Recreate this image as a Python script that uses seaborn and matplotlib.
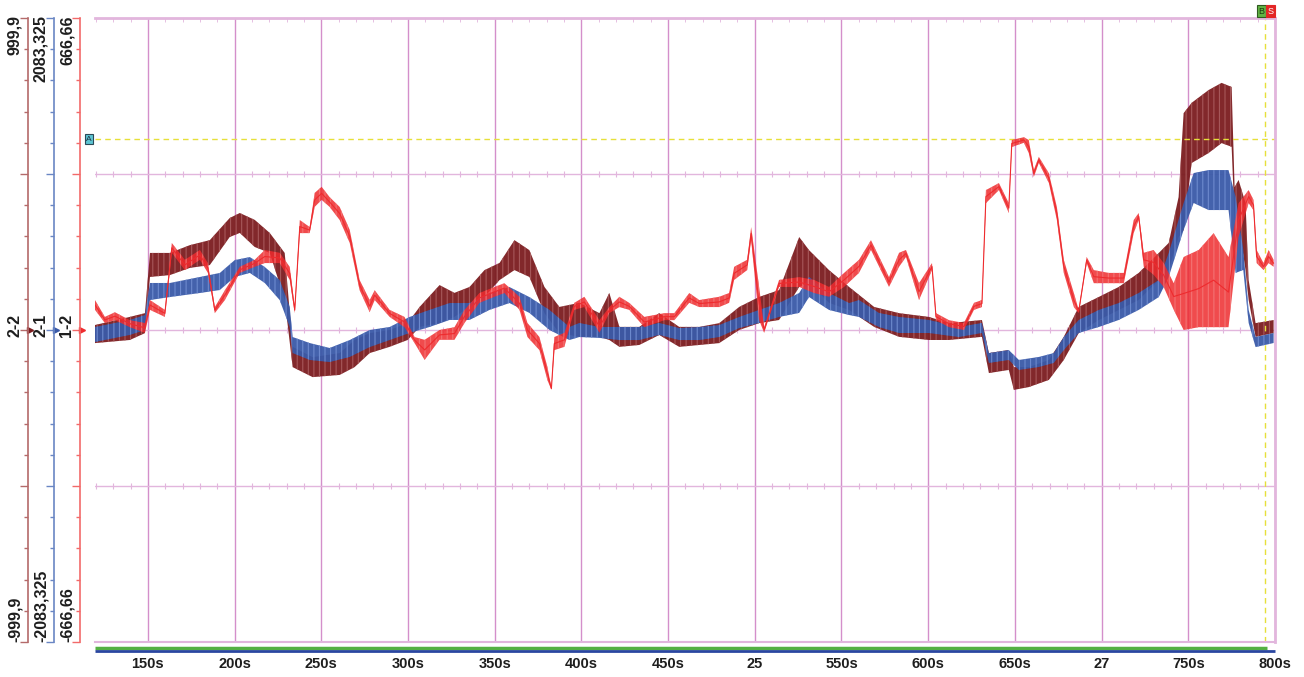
import numpy as np
import pandas as pd
import matplotlib
matplotlib.use("Agg")
import matplotlib.pyplot as plt
import matplotlib.transforms as mtransforms
from matplotlib.ticker import MultipleLocator
import seaborn as sns

# -------------------------------
# DATA (envelope low / high per channel)
# -------------------------------
# channel 2-2, full scale +-999.9
T_22 = [119.5, 139.6, 148.3, 151.2, 162.7, 174.2, 185.7, 197.2, 203.0, 211.6,
        220.3, 228.9, 233.5, 245.0, 260.6, 269.2, 277.9, 289.4, 299.8, 306.7,
        318.2, 326.8, 335.5, 344.1, 352.8, 361.4, 370.0, 378.7, 387.3, 398.8,
        410.4, 416.1, 421.9, 433.4, 444.9, 456.4, 468.0, 479.5, 491.0, 502.5,
        514.0, 525.6, 531.3, 542.8, 554.4, 568.8, 583.2, 600.4, 612.0, 631.0,
        635.0, 646.5, 649.4, 658.0, 669.6, 678.2, 686.8, 698.4, 709.9, 721.4,
        733.0, 738.7, 744.4, 747.3, 751.9, 761.7, 769.2, 775.0, 776.7, 779.0,
        783.0, 784.8, 788.8, 799.2]
HI_22 = [16, 42, 54, 247, 247, 272, 288, 359, 375, 353,
         311, 247, -54, -87, -74, -32, -10, 0, 22, 74,
         144, 119, 138, 192, 215, 288, 256, 138, 74, 87,
         54, 119, 10, 10, 54, 10, 10, 22, 74, 106,
         128, 298, 256, 192, 138, 74, 54, 42, 22, 32,
         -74, -64, -119, -119, -96, -22, 74, 106, 138, 183,
         247, 279, 426, 695, 728, 769, 792, 779, 458, 481,
         407, 160, 22, 32]
LO_22 = [-42, -32, -10, 170, 176, 199, 208, 298, 311, 266,
         247, 96, -119, -151, -144, -119, -74, -54, -32, 10,
         22, 42, 74, 106, 160, 192, 170, 54, -10, -22,
         -22, -32, -54, -48, -16, -54, -48, -42, 0, 22,
         32, 138, 151, 87, 64, 10, -22, -32, -32, -22,
         -138, -128, -192, -183, -160, -96, -10, 32, 64, 96,
         160, 192, 298, 320, 535, 567, 599, 587, 353, 343,
         192, 96, -22, -10]

# channel 2-1, full scale +-2083.325
T_21 = [119.5, 139.6, 148.3, 151.2, 162.7, 180.0, 191.5, 200.1, 208.8, 217.4,
        226.0, 231.8, 233.5, 243.3, 254.8, 266.4, 277.9, 289.4, 300.9, 312.4,
        324.0, 335.5, 347.0, 358.5, 370.0, 381.6, 393.1, 398.8, 410.4, 421.9,
        433.4, 444.9, 456.4, 468.0, 479.5, 491.0, 502.5, 514.0, 525.6, 531.3,
        542.8, 554.4, 560.1, 571.6, 583.2, 600.4, 617.7, 631.0, 635.0, 646.5,
        652.3, 663.8, 672.4, 678.2, 686.8, 698.4, 709.9, 721.4, 733.0, 738.7,
        747.3, 753.1, 761.7, 773.2, 777.3, 781.7, 784.8, 788.8, 799.2]
HI_21 = [20, 67, 100, 314, 314, 354, 381, 467, 487, 421,
         334, 154, -47, -87, -120, -67, 0, 20, 87, 134,
         180, 180, 247, 287, 220, 134, 20, 47, 20, 20,
         20, 47, 13, 20, 33, 87, 134, 180, 247, 354,
         247, 180, 200, 114, 87, 67, 20, 47, -154, -134,
         -200, -180, -154, -47, 67, 134, 180, 247, 334, 514,
         848, 1048, 1068, 1068, 888, 534, 134, -47, -20]
LO_21 = [-80, -33, 0, 200, 220, 247, 267, 354, 381, 314,
         200, 20, -154, -200, -214, -180, -114, -67, -20, 20,
         67, 67, 134, 180, 114, 0, -67, -47, -53, -67,
         -67, -33, -67, -67, -47, 13, 47, 87, 114, 220,
         134, 100, 87, 20, -20, -20, -47, -20, -220, -200,
         -267, -247, -220, -134, -20, 20, 67, 134, 220, 354,
         668, 848, 801, 801, 381, 401, 47, -114, -87]

# channel 1-2, full scale +-666.66
T_12 = [119.5, 125.2, 131.0, 139.6, 148.3, 151.2, 159.8, 163.8, 171.3, 180.0,
        184.6, 188.6, 194.4, 203.0, 211.6, 217.4, 226.0, 231.8, 234.7, 237.6,
        243.3, 246.2, 250.2, 254.8, 260.6, 266.4, 272.1, 277.9, 280.8, 289.4,
        298.0, 303.8, 309.6, 318.2, 326.8, 332.6, 341.2, 349.9, 355.6, 364.3,
        368.9, 375.8, 380.4, 382.7, 384.4, 390.2, 395.9, 401.7, 410.4, 416.1,
        421.9, 427.6, 436.3, 447.8, 453.6, 462.2, 468.0, 479.5, 485.2, 488.1,
        495.6, 497.9, 502.5, 505.4, 514.0, 525.6, 534.2, 542.8, 551.5, 560.1,
        567.0, 577.4, 583.2, 587.2, 594.7, 602.2, 604.5, 612.0, 620.6, 626.4,
        631.0, 633.3, 640.8, 646.5, 648.2, 655.2, 658.0, 660.9, 663.8, 669.6,
        674.2, 678.2, 684.0, 686.8, 691.4, 695.5, 704.1, 712.8, 718.5, 721.4,
        724.3, 730.0, 735.8, 741.6, 747.3, 756.0, 764.6, 773.2, 779.0, 784.8,
        787.6, 789.4, 793.4, 796.3, 799.2]
HI_12 = [64, 28, 38, 21, 15, 64, 43, 186, 150, 171,
         143, 49, 85, 135, 150, 171, 165, 135, 49, 235,
         220, 293, 306, 284, 263, 214, 107, 64, 85, 43,
         28, -15, -21, 0, 6, 43, 79, 92, 100, 71,
         15, -15, -79, -122, -15, -6, 58, 71, 21, 49,
         71, 58, 28, 36, 36, 79, 64, 71, 79, 135,
         150, 220, 92, 6, 107, 113, 107, 92, 122, 150,
         192, 113, 165, 171, 100, 143, 36, 21, 15, 58,
         64, 299, 314, 271, 406, 412, 406, 342, 370, 335,
         263, 150, 79, 43, 156, 128, 122, 122, 235, 250,
         165, 171, 143, 100, 156, 171, 207, 156, 271, 299,
         278, 171, 143, 171, 150]
LO_12 = [43, 15, 21, 6, -6, 43, 28, 165, 128, 150,
         122, 36, 64, 122, 135, 143, 143, 107, 36, 207,
         207, 263, 278, 263, 235, 186, 85, 38, 64, 28,
         6, -28, -64, -21, -21, 15, 58, 71, 79, 43,
         -15, -43, -107, -128, -43, -36, 43, 49, -6, 36,
         49, 43, 6, 21, 21, 58, 49, 49, 58, 107,
         128, 192, 21, -6, 92, 92, 79, 71, 92, 122,
         171, 92, 135, 156, 64, 128, 21, 6, 0, 43,
         49, 271, 299, 250, 391, 400, 378, 327, 357, 314,
         235, 122, 49, 36, 143, 100, 100, 100, 207, 235,
         135, 118, 92, 43, 0, 6, 6, 6, 199, 271,
         256, 143, 128, 143, 135]

XTICKS = [150, 200, 250, 300, 350, 400, 450, 500, 550, 600, 650, 700, 750, 800]
XTICK_LABELS = ["150s", "200s", "250s", "300s", "350s", "400s", "450s", "25",
                "550s", "600s", "650s", "27", "750s", "800s"]

CURSOR_A = 612      # in 2-2 units
CURSOR_B = 794.0    # seconds

# -------------------------------
# STYLE
# -------------------------------
sns.set_style("white")
plt.rcParams["font.family"] = ["Liberation Sans", "DejaVu Sans"]
plt.rcParams["hatch.linewidth"] = 0.8

C_22 = "#7b1c1f"
C_21 = "#3a5aa8"
C_12 = "#ee2b2e"
SP_22 = "#b46a6a"
SP_21 = "#6a86c4"
SP_12 = "#f26a6a"
GRID_V = "#d48fcb"
GRID_H = "#e2b6dd"
TXT = "#1e1e1e"


def long_frame(t, lo, hi):
    return pd.DataFrame({"time": np.concatenate([t, t]),
                         "value": np.concatenate([lo, hi])})


fig = plt.figure(figsize=(13.04, 6.77), dpi=100)
ax = fig.add_axes([95 / 1304, 1 - 642 / 677, 1180 / 1304, 624 / 677])
ax_b = ax.twinx()
ax_r = ax.twinx()

channels = [
    (ax, long_frame(T_22, LO_22, HI_22), C_22, "#a85a5c", SP_22, 999.9, 67,
     "999,9", "-999,9", "2-2", 0.95, 0),
    (ax_b, long_frame(T_21, LO_21, HI_21), C_21, "#6f8cd0", SP_21, 2083.325, 41,
     "2083,325", "-2083,325", "2-1", 0.95, 0),
    (ax_r, long_frame(T_12, LO_12, HI_12), C_12, "#f47a7a", SP_12, 666.66, 15,
     "666,66", "-666,66", "1-2", 0.85, 0.8),
]

for a, df, col, stripe, spc, fs, off, top_lbl, bot_lbl, mid_lbl, alp, lw in channels:
    sns.lineplot(data=df, x="time", y="value", ax=a, estimator="mean",
                 errorbar=("pi", 100), color=col, linewidth=lw,
                 err_kws={"alpha": alp, "linewidth": 0, "hatch": "|||",
                          "edgecolor": stripe})
    a.set_ylim(-fs, fs)
    a.set_xlim(119.5, 800)
    a.set_ylabel("")
    a.set_xlabel("")
    for s in ["right", "top", "bottom"]:
        a.spines[s].set_visible(False)
    a.spines["left"].set_visible(True)
    a.spines["left"].set_position(("outward", off * 0.72))
    a.spines["left"].set_color(spc)
    a.spines["left"].set_linewidth(1.2)
    a.yaxis.set_ticks_position("left")
    a.set_yticks([-fs, -fs / 2, 0, fs / 2, fs])
    a.yaxis.set_minor_locator(MultipleLocator(fs / 10))
    a.tick_params(axis="y", which="major", length=6, width=1, color=spc,
                  labelleft=False, direction="out")
    a.tick_params(axis="y", which="minor", length=3, width=1, color=spc,
                  direction="out")

    # scale texts, rotated as on the scope
    lx = -(off + 13)
    a.annotate(top_lbl, xy=(0, fs), xycoords=("axes fraction", "data"),
               xytext=(lx, 3), textcoords="offset pixels", rotation=90,
               ha="center", va="top", fontsize=11.5, fontweight="bold",
               color=TXT, annotation_clip=False)
    a.annotate(bot_lbl, xy=(0, -fs), xycoords=("axes fraction", "data"),
               xytext=(lx, 0), textcoords="offset pixels", rotation=90,
               ha="center", va="bottom", fontsize=11.5, fontweight="bold",
               color=TXT, annotation_clip=False)
    a.annotate(mid_lbl, xy=(0, 0), xycoords=("axes fraction", "data"),
               xytext=(lx, 5), textcoords="offset pixels", rotation=90,
               ha="center", va="center", fontsize=11.5, fontweight="bold",
               color=TXT, annotation_clip=False)
    # small arrow at the zero of each scale
    tr = mtransforms.blended_transform_factory(a.transAxes, a.transData) + \
        mtransforms.ScaledTranslation(-(off - 2) / 100, 0, fig.dpi_scale_trans)
    a.plot([0], [0], marker=">", ms=4, color=col, transform=tr, clip_on=False)

# frame + grid on the base axes
ax.grid(axis="x", color=GRID_V, linewidth=1)
ax.grid(axis="y", color=GRID_H, linewidth=1)
ax.set_axisbelow(True)
for s, w in [("top", 2), ("right", 2), ("bottom", 1.5)]:
    ax.spines[s].set_visible(True)
    ax.spines[s].set_color(GRID_H)
    ax.spines[s].set_linewidth(w)

# little division marks along the inner horizontal lines
for lvl in [-999.9 / 2, 0, 999.9 / 2]:
    ax.plot(np.arange(120, 800, 10), np.full(68, lvl), linestyle="none",
            marker="|", ms=4, mew=0.8, color=GRID_H, zorder=0.5)

ax.set_xticks(XTICKS)
ax.set_xticklabels(XTICK_LABELS, fontsize=10.5, fontweight="bold", color=TXT)
ax.xaxis.set_minor_locator(MultipleLocator(10))
ax.tick_params(axis="x", which="major", length=0, pad=11)
ax.tick_params(axis="x", which="minor", top=True, bottom=False, length=3,
               color=GRID_H, direction="in")

# cursors
ax.axhline(CURSOR_A, color="#e6e03a", linestyle=(0, (4, 3)), linewidth=1)
ax.axvline(CURSOR_B, color="#e6e03a", linestyle=(0, (4, 3)), linewidth=1)
ax.annotate("A", xy=(0, CURSOR_A), xycoords=("axes fraction", "data"),
            xytext=(-6, 0), textcoords="offset pixels", ha="center", va="center",
            fontsize=6, color="#203040", annotation_clip=False,
            bbox=dict(boxstyle="square,pad=0.2", fc="#5cc4d2", ec="#2c4a58", lw=0.8))
ax.annotate("B", xy=(CURSOR_B, 1), xycoords=("data", "axes fraction"),
            xytext=(-3, 7), textcoords="offset pixels", ha="center", va="center",
            fontsize=6.5, color="#1c3a10", annotation_clip=False,
            bbox=dict(boxstyle="square,pad=0.15", fc="#62b344", ec="#2f5a20", lw=0.8))
ax.annotate("S", xy=(CURSOR_B, 1), xycoords=("data", "axes fraction"),
            xytext=(6, 7), textcoords="offset pixels", ha="center", va="center",
            fontsize=6.5, color="#ffffff", annotation_clip=False,
            bbox=dict(boxstyle="square,pad=0.15", fc="#e32626", ec="#e32626", lw=0.8))

# time ruler under the plot
ax.plot([0, 0.993], [-0.0096, -0.0096], transform=ax.transAxes, color="#55b043",
        linewidth=2.5, clip_on=False, solid_capstyle="butt")
ax.plot([0, 1.0], [-0.0145, -0.0145], transform=ax.transAxes, color="#2a46a0",
        linewidth=2, clip_on=False, solid_capstyle="butt")

fig.savefig("out.png", dpi=100)
